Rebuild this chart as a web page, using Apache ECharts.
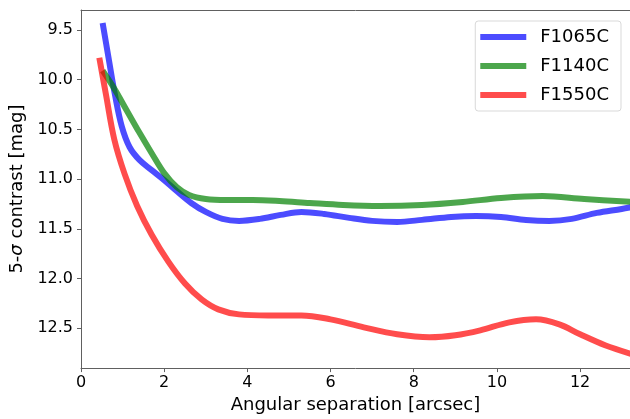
<!DOCTYPE html>
<html>
<head>
<meta charset="utf-8">
<script src="https://cdn.jsdelivr.net/npm/echarts@6/dist/echarts.min.js"></script>
<style>html,body{margin:0;padding:0;background:#fff}#c{width:630px;height:419px}</style>
</head>
<body>
<div id="c"></div>
<script>
const seriesNames = ['F1065C', 'F1140C', 'F1550C'];
const xTicks = [0, 2, 4, 6, 8, 10, 12];
const yTicks = [9.5, 10.0, 10.5, 11.0, 11.5, 12.0, 12.5];

const f1065cX = [0.52, 0.67, 0.82, 0.98, 1.17, 1.41, 1.7, 2.0, 2.3, 2.65, 3.0, 3.4, 3.8, 4.3, 4.8, 5.3, 5.85, 6.45, 7.0, 7.6, 8.2, 8.9, 9.5, 10.1, 10.7, 11.26, 11.8, 12.4, 13.0, 13.25];
const f1065cY = [9.43, 9.80, 10.16, 10.47, 10.68, 10.81, 10.91, 11.01, 11.12, 11.24, 11.33, 11.40, 11.42, 11.40, 11.36, 11.33, 11.35, 11.39, 11.42, 11.43, 11.41, 11.38, 11.37, 11.38, 11.41, 11.42, 11.40, 11.34, 11.30, 11.28];

const f1140cX = [0.52, 0.8, 1.1, 1.4, 1.7, 2.0, 2.3, 2.6, 3.0, 3.5, 4.13, 4.77, 5.5, 6.3, 7.18, 8.2, 9.18, 10.1, 11.1, 12.1, 13.25];
const f1140cY = [9.91, 10.09, 10.31, 10.53, 10.74, 10.94, 11.08, 11.16, 11.20, 11.21, 11.21, 11.22, 11.24, 11.26, 11.27, 11.26, 11.23, 11.19, 11.17, 11.20, 11.23];

const f1550cX = [0.44, 0.6, 0.8, 1.05, 1.35, 1.7, 2.1, 2.5, 2.9, 3.3, 3.8, 4.5, 5.3, 6.0, 6.8, 7.6, 8.38, 9.0, 9.6, 10.3, 10.94, 11.5, 12.0, 12.6, 13.25];
const f1550cY = [9.78, 10.15, 10.60, 10.95, 11.27, 11.56, 11.83, 12.05, 12.21, 12.31, 12.36, 12.37, 12.37, 12.41, 12.49, 12.56, 12.59, 12.57, 12.52, 12.44, 12.41, 12.46, 12.56, 12.67, 12.76];

const colors = ['#0000ff', '#008000', '#ff0000'];
const pairs = (xs, ys) => xs.map((x, i) => [x, ys[i]]);
const allData = [pairs(f1065cX, f1065cY), pairs(f1140cX, f1140cY), pairs(f1550cX, f1550cY)];

const FONT = 'DejaVu Sans';
const axisColor = '#606060';
const chart = echarts.init(document.getElementById('c'), null, {renderer: 'canvas'});
chart.setOption({
  animation: false,
  backgroundColor: '#fff',
  textStyle: {fontFamily: FONT},
  grid: {left: 81, top: 10, right: 0, bottom: 49, containLabel: false},
  legend: {
    orient: 'vertical', right: 9, top: 21,
    data: seriesNames,
    icon: 'rect', itemWidth: 46, itemHeight: 6, itemGap: 11,
    padding: [7, 12, 7, 5],
    borderColor: '#d9d9d9', borderWidth: 1, borderRadius: 3,
    backgroundColor: 'rgba(255,255,255,0.8)',
    textStyle: {fontFamily: FONT, fontSize: 18, color: '#000', lineHeight: 18, padding: [0, 0, 0, 9]}
  },
  xAxis: [{
    type: 'value', min: 0, max: 13.2, interval: 2,
    name: 'Angular separation [arcsec]', nameLocation: 'middle', nameGap: 24,
    nameTextStyle: {fontFamily: FONT, fontSize: 18, color: '#000'},
    axisLine: {show: true, onZero: false, lineStyle: {color: axisColor, width: 1}},
    axisTick: {show: true, length: 4, lineStyle: {color: axisColor}, customValues: xTicks},
    axisLabel: {fontFamily: FONT, fontSize: 16, color: '#000', margin: 7, customValues: xTicks,
      formatter: v => String(v)},
    splitLine: {show: false}
  }, {
    type: 'value', min: 0, max: 13.2, position: 'top',
    axisLine: {show: true, onZero: false, lineStyle: {color: axisColor, width: 1}},
    axisTick: {show: false}, axisLabel: {show: false}, splitLine: {show: false}
  }],
  yAxis: {
    type: 'value', inverse: true, min: 9.3, max: 12.9,
    name: '5-{i|σ} contrast [mag]', nameLocation: 'middle', nameGap: 48, nameRotate: 90,
    nameTextStyle: {fontFamily: FONT, fontSize: 18, color: '#000',
      rich: {i: {fontFamily: FONT, fontSize: 18, fontStyle: 'italic', color: '#000'}}},
    axisLine: {show: true, onZero: false, lineStyle: {color: axisColor, width: 1}},
    axisTick: {show: true, length: 4, lineStyle: {color: axisColor}, customValues: yTicks},
    axisLabel: {fontFamily: FONT, fontSize: 16, color: '#000', margin: 8, customValues: yTicks,
      formatter: v => v.toFixed(1)},
    splitLine: {show: false}
  },
  series: seriesNames.map((n, i) => ({
    name: n, type: 'line', data: allData[i], showSymbol: false, symbol: 'none',
    smooth: 0.35, clip: true,
    color: colors[i],
    itemStyle: {color: colors[i], opacity: 0.7},
    lineStyle: {color: colors[i], width: 6, opacity: 0.7, cap: 'butt', join: 'round'}
  }))
});
</script>
</body>
</html>
